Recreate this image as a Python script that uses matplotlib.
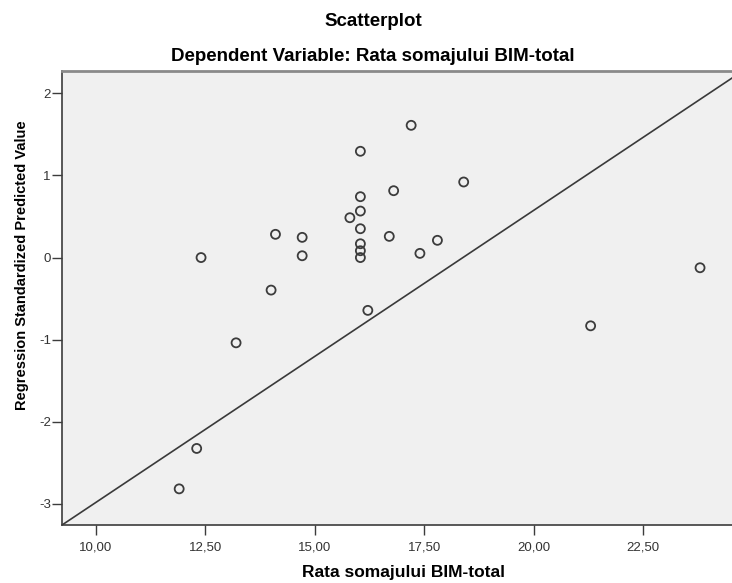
import numpy as np
import matplotlib
matplotlib.use("Agg")
import matplotlib.pyplot as plt

plt.rcParams['font.family'] = ['Liberation Sans', 'DejaVu Sans']
plt.rcParams['axes.unicode_minus'] = False

# observed unemployment rate (x) vs standardized predicted value (y)
rata_somaj = [17.20, 16.04, 18.40, 16.80, 16.04, 16.04, 15.80, 16.04, 14.10, 14.71,
              16.70, 17.80, 16.04, 16.04, 17.40, 14.71, 16.04, 12.40, 14.00, 16.21,
              13.20, 12.30, 11.90, 23.80, 21.30]
pred_std = [1.610, 1.294, 0.920, 0.814, 0.741, 0.566, 0.485, 0.351, 0.283, 0.246,
            0.258, 0.210, 0.168, 0.083, 0.051, 0.022, 0.000, 0.000, -0.396, -0.643,
            -1.038, -2.324, -2.816, -0.124, -0.831]

# fit line drawn by SPSS
fit_intercept = -6.535
fit_slope = 0.3555

x_ticks = [10.0, 12.5, 15.0, 17.5, 20.0, 22.5]
x_tick_labels = ['10,00', '12,50', '15,00', '17,50', '20,00', '22,50']
y_ticks = [2, 1, 0, -1, -2, -3]

W, H = 732, 583
fig = plt.figure(figsize=(W / 100, H / 100), dpi=100)
ax = fig.add_axes([62 / W, 1 - 525 / H, 670 / W, 454.3 / H])
ax.set_facecolor('#f0f0f0')

xmin, xmax = 9.223, 24.53
ymin, ymax = -3.256, 2.275
ax.set_xlim(xmin, xmax)
ax.set_ylim(ymin, ymax)

xs = np.array([xmin, xmax])
ax.plot(xs, fit_intercept + fit_slope * xs, color='#3a3a3a', lw=1.2, zorder=2)

ax.scatter(rata_somaj, pred_std, s=42, facecolors='none', edgecolors='#3c3c3c',
           linewidths=1.3, zorder=3)

ax.set_xticks(x_ticks)
ax.set_xticklabels(x_tick_labels)
ax.set_yticks(y_ticks)
ax.tick_params(axis='both', direction='out', length=7, width=1, color='#3c3c3c',
               labelsize=9.5, labelcolor='#333333')
ax.tick_params(axis='x', pad=5)
ax.tick_params(axis='y', pad=1)

for side in ['left', 'bottom']:
    ax.spines[side].set_color('#3c3c3c')
    ax.spines[side].set_linewidth(1.2)
ax.spines['top'].set_color('#8a8a8a')
ax.spines['top'].set_linewidth(2)
ax.spines['right'].set_visible(False)

ax.set_xlabel('Rata somajului BIM-total', fontsize=12.5, fontweight='bold')
ax.xaxis.set_label_coords((403 - 62) / 670, -(572 - 525) / 454.3)
ax.xaxis.label.set_va('center')
ax.set_ylabel('Regression Standardized Predicted Value', fontsize=10.5,
              fontweight='bold')
ax.yaxis.set_label_coords(-(62 - 22) / 670, (525 - 265) / 454.3)
ax.yaxis.label.set_va('center')

fig.text(373 / W, 1 - 26 / H, 'Scatterplot', ha='center', va='baseline',
         fontsize=13.5, fontweight='bold')
fig.text(373 / W, 1 - 61 / H, 'Dependent Variable: Rata somajului BIM-total',
         ha='center', va='baseline', fontsize=13.5, fontweight='bold')

fig.savefig('out.png', dpi=100)
